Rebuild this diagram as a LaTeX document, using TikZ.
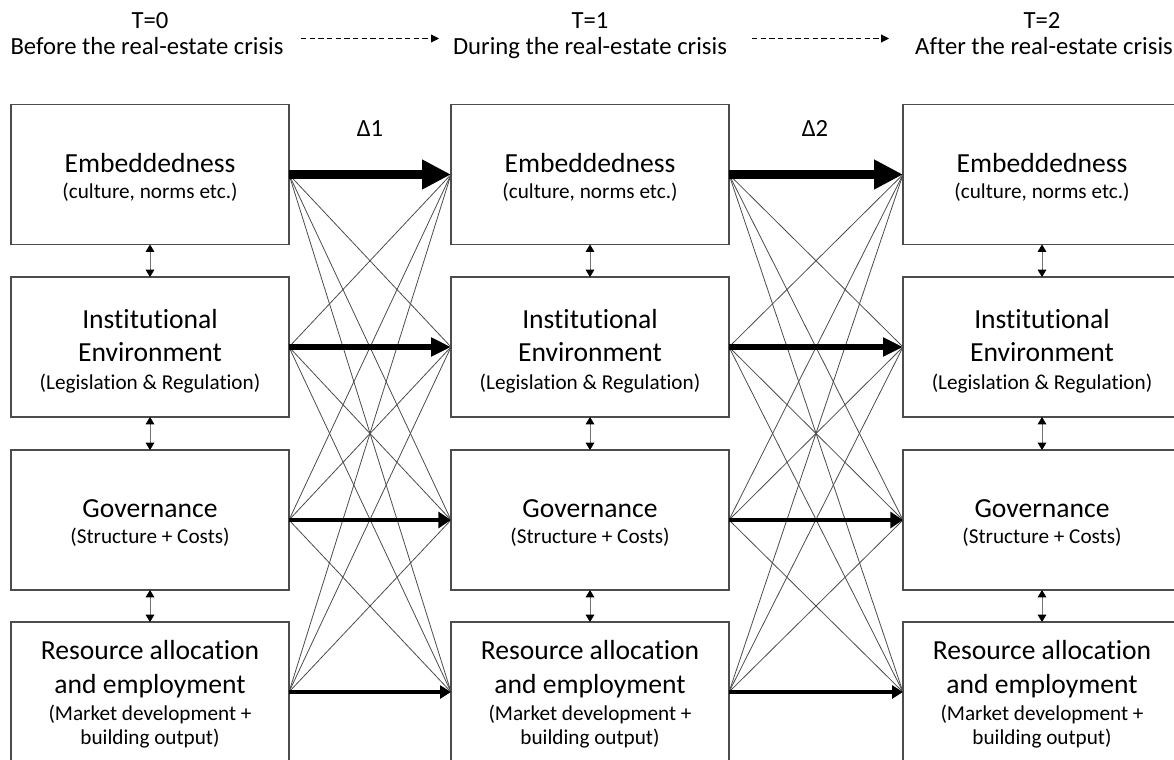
\documentclass[tikz,border=0pt]{standalone}
\usepackage{fontspec}
\setmainfont{Carlito}[Ligatures={NoCommon}]
\usetikzlibrary{arrows.meta}
\begin{document}
\begin{tikzpicture}[x=0.75pt,y=-0.75pt,
  box/.style={draw=black!70,line width=1.1pt,minimum width=208.5pt,minimum height=105pt,inner sep=0pt,outer sep=0pt,fill=white},
  big/.style={anchor=base,font=\fontsize{20.7}{24}\selectfont,inner sep=0pt},
  small/.style={anchor=base,font=\fontsize{15.9}{19}\selectfont,inner sep=0pt},
  hdr/.style={anchor=base,font=\fontsize{18.5}{21}\selectfont,inner sep=0pt},
  thin/.style={draw=black!70,line width=0.6pt},
  vlink/.style={draw=black!55,line width=0.6pt,{Triangle[length=5.5pt,width=6.5pt,color=black]}-{Triangle[length=5.5pt,width=6.5pt,color=black]}},
  dashlink/.style={draw=black,line width=0.7pt,dash pattern=on 4pt off 2.5pt,-{Triangle[length=6pt,width=6pt]}},
  thickA/.style={line width=7.1pt,-{Triangle[length=21.75pt,width=21pt]}},
  thickB/.style={line width=4pt,-{Triangle[length=15pt,width=13.5pt]}},
  thickC/.style={line width=3.2pt,-{Triangle[length=9.5pt,width=12pt]}},
  thickD/.style={line width=2.5pt,-{Triangle[length=8.25pt,width=9.75pt]}},
]
\useasboundingbox (0,0) rectangle (1174,760);
\clip (0,0) rectangle (1174,760);

% headers
\node[hdr] (h0a) at (150,28) {T=0};
\node[hdr] (h0b) at (147,54) {Before the real-estate crisis};
\node[hdr] (h1a) at (590,28) {T=1};
\node[hdr] (h1b) at (590,54) {During the real-estate crisis};
\node[hdr] (h2a) at (1042,28) {T=2};
\node[hdr] (h2b) at (1044,54) {After the real-estate crisis};
\coordinate (d1s) at (301,38.5);
\coordinate (d1e) at (439,38.5);
\coordinate (d2s) at (752,38.5);
\coordinate (d2e) at (889,38.5);
\draw[dashlink] (d1s) -- (d1e);
\draw[dashlink] (d2s) -- (d2e);

% boxes and texts
\foreach \c/\x in {L/150,M/590,R/1042} {
  \node[box] (\c1) at (\x,174.5) {};
  \node[box] (\c2) at (\x,347) {};
  \node[box] (\c3) at (\x,520) {};
  \node[box] (\c4) at (\x,692) {};
  \node[big] (\c-t1a) at (\x,172.5) {Embeddedness};
  \node[small] (\c-t1b) at (\x,198.5) {(culture, norms etc.)};
  \node[big] (\c-t2a) at (\x,328.5) {Institutional};
  \node[big] (\c-t2b) at (\x,361.5) {Environment};
  \node[small] (\c-t2c) at (\x,389.3) {(Legislation \& Regulation)};
  \node[big] (\c-t3a) at (\x,517) {Governance};
  \node[small] (\c-t3b) at (\x,543) {(Structure + Costs)};
  \node[big] (\c-t4a) at (\x,659.8) {Resource allocation};
  \node[big] (\c-t4b) at (\x,693) {and employment};
  \node[small] (\c-t4c) at (\x,720) {(Market development +};
  \node[small] (\c-t4d) at (\x,744) {building output)};
  \draw[vlink] (\c1.south) -- (\c2.north);
  \draw[vlink] (\c2.south) -- (\c3.north);
  \draw[vlink] (\c3.south) -- (\c4.north);
}

% delta labels
\node[hdr] (d1) at (370,136) {Δ1};
\node[hdr] (d2) at (815,136) {Δ2};

% thin cross links
\foreach \a/\b in {L/M,M/R} {
  \foreach \i in {1,...,4} {
    \foreach \j in {1,...,4} {
      \ifnum\i=\j\else
        \draw[thin] (\a\i.east) -- (\b\j.west);
      \fi
    }
  }
  \draw[thickA] (\a1.east) -- (\b1.west);
  \draw[thickB] (\a2.east) -- (\b2.west);
  \draw[thickC] (\a3.east) -- (\b3.west);
  \draw[thickD] (\a4.east) -- (\b4.west);
}
\end{tikzpicture}
\end{document}
